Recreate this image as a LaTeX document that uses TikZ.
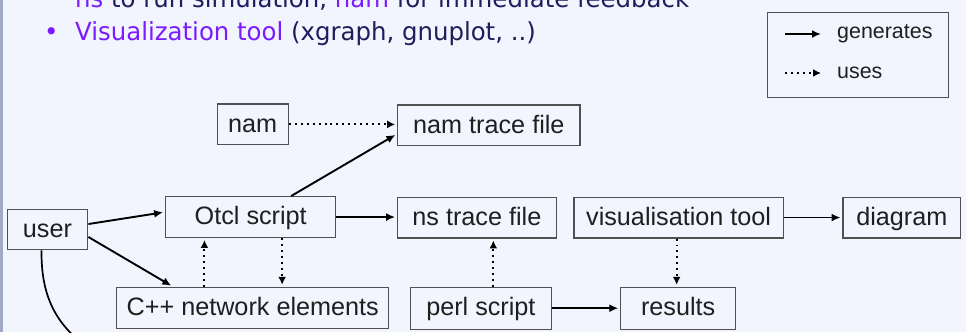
\documentclass[tikz,border=0pt]{standalone}
\usepackage{fontspec}
\setmainfont{Liberation Sans}
\newfontfamily\slidefont[FakeStretch=0.98]{DejaVu Sans}
\usetikzlibrary{arrows.meta}
\definecolor{slidebg}{HTML}{F2F4FE}
\definecolor{slideedge}{HTML}{A2A9C6}
\definecolor{slidepurple}{HTML}{7A1CFF}
\definecolor{slidenavy}{HTML}{1E1E5C}
\definecolor{boxgrey}{HTML}{505050}
\tikzstyle{block} = [rectangle, 
draw=boxgrey, 
line width=1.1pt, 
minimum height=41pt, 
inner sep=0pt, 
text height=19.5pt, 
text depth=4pt, 
text=black!88, 
font=\fontsize{25.3}{30}\selectfont]
\tikzstyle{slidetext} = [inner sep=0pt, 
text=slidenavy, 
font=\slidefont\fontsize{25}{30}\selectfont]
\tikzstyle{gen} = [line width=1.9pt,-{Latex[length=9pt,width=8pt]},shorten >=2pt]
\tikzstyle{use} = [line width=2pt,-{Latex[length=8pt,width=8pt]},dash pattern=on 2pt off 4pt,shorten >=2pt]

\begin{document}
\begin{tikzpicture}[x=1bp, y=-1bp, node distance=91pt]
    \clip (0,0) rectangle (966,332);
    \fill [slidebg] (0,0) rectangle (966,332);
    \fill [slideedge] (0,0) rectangle (2.5,332);

    % slide text above the figure
    \node (lineone) [slidetext, anchor=base west] at (75,7) {\textcolor{slidepurple}{ns} to run simulation, \textcolor{slidepurple}{nam} for immediate feedback};
    \node (bullet) [slidetext, anchor=base west, text=slidepurple] at (44,40) {•};
    \node (linetwo) [slidetext, anchor=base west] at (75,40) {\textcolor{slidepurple}{Visualization tool} (xgraph, gnuplot, ..)};

    % legend
    \node (legend) [rectangle, draw=boxgrey, line width=1.1pt, minimum width=182pt, minimum height=86pt] at (858,55) {};
    \coordinate (genfrom) at (785,34);
    \coordinate (gento) at (823,34);
    \coordinate (usefrom) at (785,73);
    \coordinate (useto) at (823,73);
    \node (genlabel) [anchor=west, inner sep=0pt, font=\fontsize{21.5}{26}\selectfont, text=black!88] at (837,34) {generates};
    \node (uselabel) [anchor=west, inner sep=0pt, font=\fontsize{21.5}{26}\selectfont, text=black!88] at (837,73) {uses};
    \draw [gen] (genfrom) -- (gento);
    \draw [use] (usefrom) -- (useto);

    % boxes
    \node (user) [block, minimum width=81pt] at (47.5,229.5) {user};
    \node (otcl) [block, minimum width=171pt, right of=user, xshift=113pt, yshift=12.5pt] {Otcl script};
    \node (cpp) [block, minimum width=273pt, below of=otcl, xshift=2pt] {C++ network elements};
    \node (nam) [block, minimum width=71pt, above of=otcl, xshift=2pt, yshift=2pt] {nam};
    \node (namtrace) [block, minimum width=183pt, right of=nam, xshift=146pt, yshift=-1pt] {nam trace file};
    \node (nstrace) [block, minimum width=159pt, right of=otcl, xshift=136pt, yshift=-0.5pt] {ns trace file};
    \node (vistool) [block, minimum width=210pt, right of=nstrace, xshift=111.5pt] {visualisation tool};
    \node (diagram) [block, minimum width=118pt, right of=vistool, xshift=133pt] {diagram};
    \node (perl) [block, minimum width=141pt, minimum height=42pt, below of=nstrace, xshift=4pt] {perl script};
    \node (results) [block, minimum width=115pt, minimum height=42pt, below of=vistool, xshift=-0.5pt] {results};
    \coordinate (userout) at (84,345);

    % generates
    \draw [gen] ([yshift=5.5pt]user.east) -- ([yshift=5pt]otcl.west);
    \draw [gen] ([yshift=-7.5pt]user.east) -- ([xshift=-80pt]cpp.north);
    \draw [gen] ([xshift=40.5pt]otcl.north) -- ([yshift=-8.5pt]namtrace.west);
    \draw [gen] (otcl.east) -- (otcl.east -| nstrace.west);
    \draw [gen] (vistool) -- (diagram);
    \draw [gen] (perl) -- (results);
    \draw [line width=1.7pt] ([xshift=-6pt]user.south) .. controls (41,295) and (55,322) .. (userout);

    % uses
    \draw [use] (nam.east) -- (nam.east -| namtrace.west);
    \draw [use] ([xshift=31.5pt]otcl.south) -- ([xshift=29.5pt]cpp.north);
    \draw [use] ([xshift=-48.5pt]cpp.north) -- ([xshift=-46.5pt]otcl.south);
    \draw [use] ([xshift=12.5pt]perl.north) -- ([xshift=16.5pt]nstrace.south);
    \draw [use] ([xshift=-2pt]vistool.south) -- ([xshift=-1.5pt]results.north);
\end{tikzpicture}
\end{document}
